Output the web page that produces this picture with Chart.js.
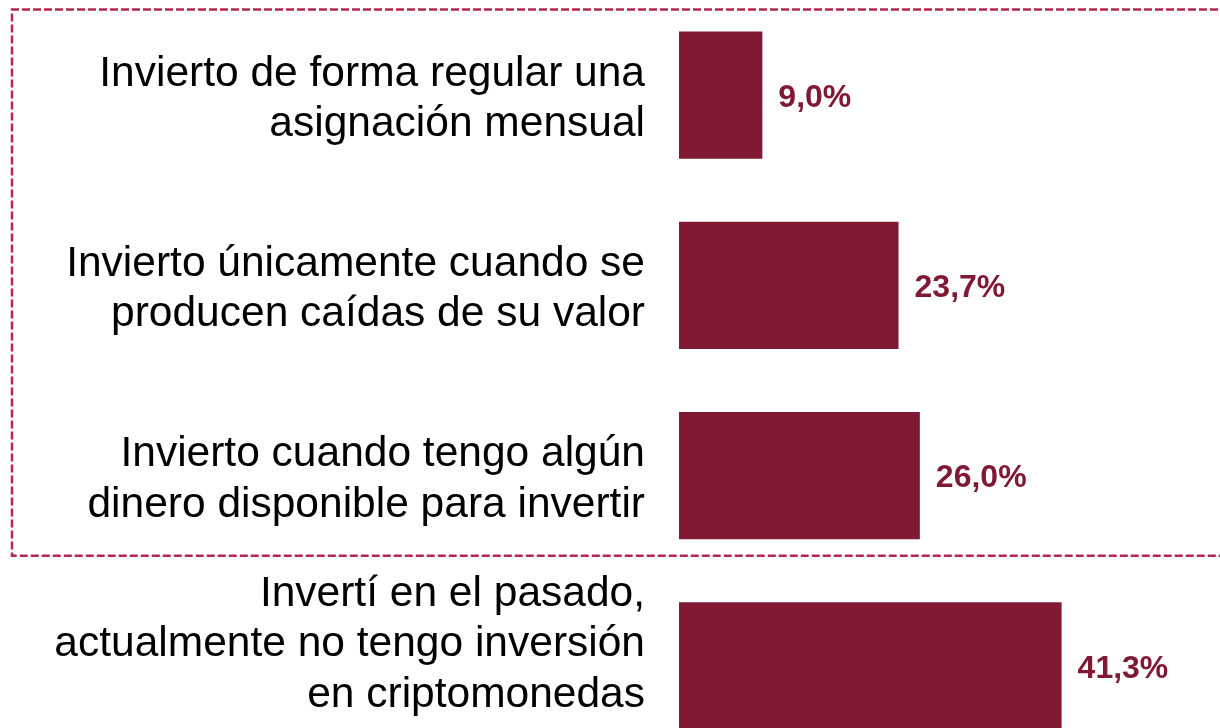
<!DOCTYPE html>
<html>
<head>
<meta charset="utf-8">
<script src="https://cdn.jsdelivr.net/npm/chart.js@4"></script>
<style>
html,body{margin:0;padding:0;background:#fff;overflow:hidden;}
#wrap{width:1220px;height:761px;}
</style>
</head>
<body>
<div id="wrap"><canvas id="c" width="1220" height="761"></canvas></div>
<script>
const categories = [
  ["Invierto de forma regular una", "asignación mensual"],
  ["Invierto únicamente cuando se", "producen caídas de su valor"],
  ["Invierto cuando tengo algún", "dinero disponible para invertir"],
  ["Invertí en el pasado,", "actualmente no tengo inversión", "en criptomonedas", ""]
];
const values = [9.0, 23.7, 26.0, 41.3];

const MAROON = '#801934';

const valueLabels = {
  id: 'valueLabels',
  afterDatasetsDraw(chart) {
    const ctx = chart.ctx;
    const meta = chart.getDatasetMeta(0);
    ctx.save();
    ctx.font = 'bold 32px "Liberation Sans", Arial, sans-serif';
    ctx.fillStyle = MAROON;
    ctx.textAlign = 'left';
    ctx.textBaseline = 'middle';
    meta.data.forEach((bar, i) => {
      const txt = values[i].toFixed(1).replace('.', ',') + '%';
      ctx.fillText(txt, bar.x + 16, bar.y + 3);
    });
    ctx.restore();
  }
};

const dashedBox = {
  id: 'dashedBox',
  afterDraw(chart, args, opts) {
    const ctx = chart.ctx;
    const y = chart.scales.y;
    const top = 9.5;
    const bottom = (y.getPixelForValue(2) + y.getPixelForValue(3)) / 2 - 15;
    const left = 12;
    const right = chart.width + 20;
    ctx.save();
    ctx.strokeStyle = '#b3284e';
    ctx.lineWidth = 2.5;
    ctx.setLineDash([8, 3]);
    ctx.beginPath();
    ctx.moveTo(right, top);
    ctx.lineTo(left, top);
    ctx.lineTo(left, bottom);
    ctx.lineTo(right, bottom);
    ctx.stroke();
    ctx.restore();
  }
};

new Chart(document.getElementById('c'), {
  type: 'bar',
  data: {
    labels: categories,
    datasets: [{
      data: values,
      backgroundColor: MAROON,
      borderWidth: 0,
      barPercentage: 0.668,
      categoryPercentage: 1
    }]
  },
  options: {
    indexAxis: 'y',
    responsive: false,
    animation: false,
    events: [],
    layout: { padding: 0 },
    plugins: {
      legend: { display: false },
      tooltip: { enabled: false },
      title: { display: false }
    },
    scales: {
      x: {
        display: false,
        min: 0,
        max: 58.4,
        grid: { display: false }
      },
      y: {
        afterFit(scale) {
          scale.width = 679;
          scale.paddingTop = 0;
          scale.paddingBottom = 0;
        },
        grid: { display: false, drawTicks: false },
        border: { display: false },
        ticks: {
          autoSkip: false,
          color: '#000',
          padding: 34,
          labelOffset: 4,
          font: { family: '"Liberation Sans", Arial, sans-serif', size: 42.5, lineHeight: 1.19 }
        }
      }
    }
  },
  plugins: [valueLabels, dashedBox]
});
</script>
</body>
</html>
